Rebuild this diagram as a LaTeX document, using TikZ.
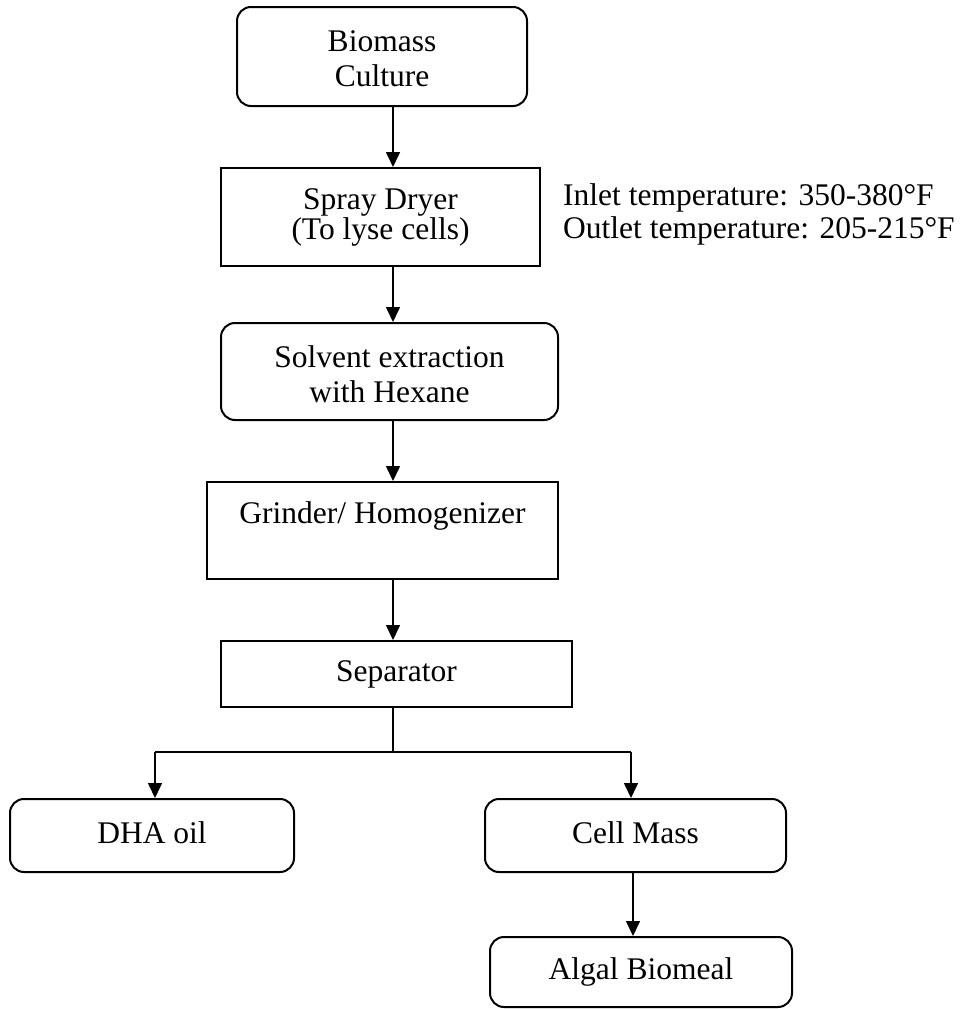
\documentclass[tikz,border=0pt]{standalone}
\usepackage{fontspec}
\setmainfont{Liberation Serif}
\usetikzlibrary{arrows.meta}
\begin{document}
\begin{tikzpicture}[x=1pt,y=-1pt,
  box/.style={draw, line width=2pt, inner sep=0pt, align=center, font=\fontsize{31.5}{35}\selectfont},
  rbox/.style={box, rounded corners=14pt},
  flow/.style={line width=1.6pt, -{Triangle[length=15pt,width=14pt]}},
  link/.style={line width=1.6pt},
  note/.style={inner sep=0pt, anchor=base west, font=\fontsize{31.5}{33}\selectfont}]
\useasboundingbox (0,0) rectangle (966,1009);
\node[rbox, minimum width=290pt, minimum height=99pt] (bio) at (382,56.5) {\rule{0pt}{26pt}Biomass\\Culture};
\node[box, minimum width=319pt, minimum height=98pt, font=\fontsize{31.5}{30}\selectfont] (spray) at (380.5,217) {Spray Dryer\\(To lyse cells)};
\node[rbox, minimum width=337pt, minimum height=97pt] (solv) at (389.5,371.5) {\rule{0pt}{28pt}Solvent extraction\\with Hexane};
\node[box, minimum width=351pt, minimum height=97pt] (grind) at (382.5,530.5) {Grinder/ Homogenizer\\\mbox{}};
\node[box, minimum width=351pt, minimum height=66pt] (sep) at (396.5,674) {Separator};
\node[rbox, minimum width=284pt, minimum height=73pt] (dha) at (152,835.5) {\rule[-6pt]{0pt}{6pt}DHA oil};
\node[rbox, minimum width=301pt, minimum height=73pt] (cell) at (635.5,835.5) {\rule[-6pt]{0pt}{6pt}Cell Mass};
\node[rbox, minimum width=302pt, minimum height=70pt] (algal) at (641,972) {Algal Biomeal};
\node[note] (inlet) at (563,205) {Inlet temperature: 350-380°F};
\node[note] (outlet) at (563,238) {Outlet temperature: 205-215°F};
\coordinate (m) at (393,0);
\draw[flow] (bio.south -| m) -- (spray.north -| m);
\draw[flow] (spray.south -| m) -- (solv.north -| m);
\draw[flow] (solv.south -| m) -- (grind.north -| m);
\draw[flow] (grind.south -| m) -- (sep.north -| m);
\coordinate (j) at (393,752);
\coordinate (jl) at (155,752);
\coordinate (jr) at (631,752);
\draw[link] (sep.south -| j) -- (j);
\draw[link] (jl) -- (jr);
\draw[flow] (jl) -- (dha.north -| jl);
\draw[flow] (jr) -- (cell.north -| jr);
\coordinate (ca) at (633,0);
\draw[flow] (cell.south -| ca) -- (algal.north -| ca);
\end{tikzpicture}
\end{document}
